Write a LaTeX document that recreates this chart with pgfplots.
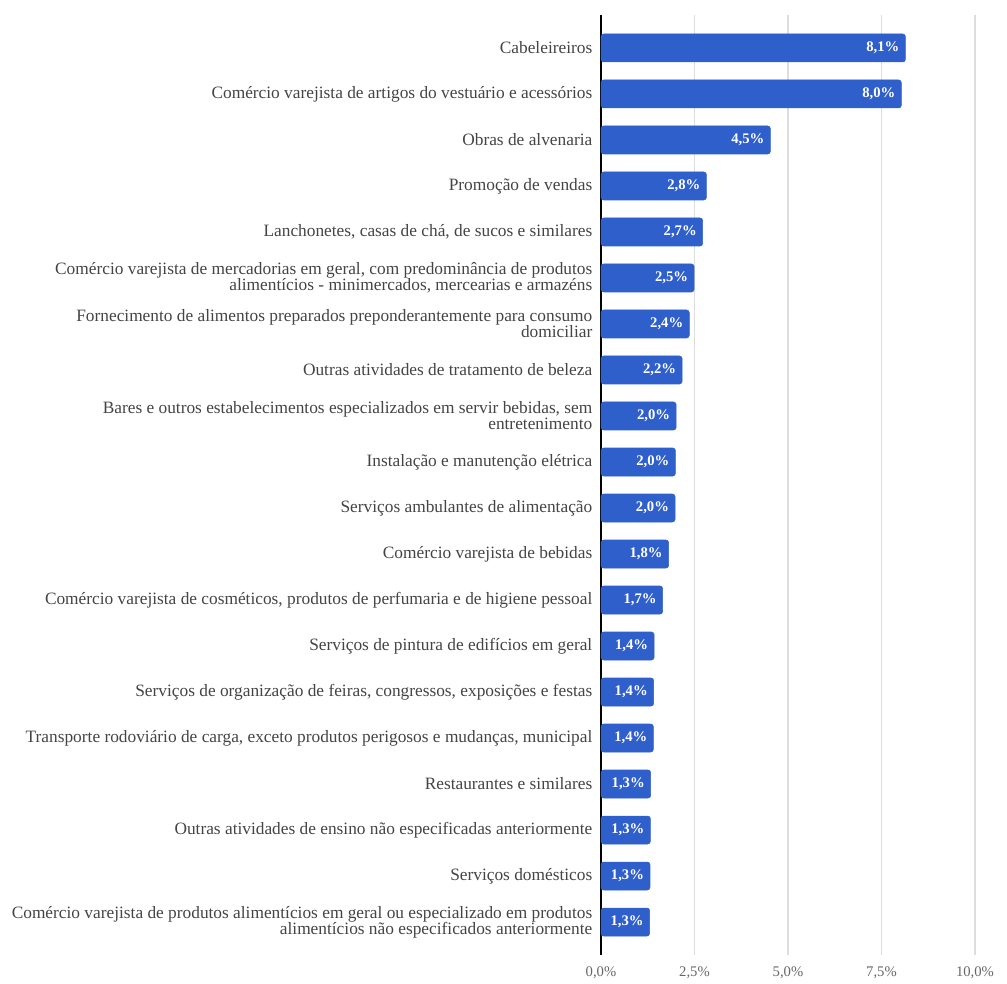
\documentclass[border=0pt]{standalone}
\usepackage{pgfplots}
\pgfplotsset{compat=1.18}
\usepackage{fontspec}
\setmainfont{Liberation Serif}
\usetikzlibrary{calc}
\definecolor{barblue}{HTML}{2F5FCB}
\definecolor{labgray}{HTML}{444444}
\definecolor{tickgray}{HTML}{666666}
\definecolor{gridgray}{HTML}{DDDDDD}
\begin{document}
\begin{tikzpicture}
\begin{axis}[
name=ax,
scale only axis,
width=280.5pt,
height=705pt,
xbar,
bar width=21pt,
y dir=reverse,
xmin=0, xmax=10,
ymin=-0.717, ymax=19.717,
xtick={0,2.5,5,7.5,10},
xticklabels={{0,0\%},{2,5\%},{5,0\%},{7,5\%},{10,0\%}},
xmajorgrids,
grid style={gridgray, line width=0.8pt},
major tick length=0pt,
axis y line*=left,
axis x line*=bottom,
x axis line style={draw=none},
y axis line style={black, line width=0.8pt},
xticklabel style={font=\fontsize{11}{12}\selectfont, text=tickgray, yshift=-5pt},
ytick=data,
yticklabels={
{Cabeleireiros},
{Comércio varejista de artigos do vestuário e acessórios},
{Obras de alvenaria},
{Promoção de vendas},
{Lanchonetes, casas de chá, de sucos e similares},
{Comércio varejista de mercadorias em geral, com predominância de produtos\\alimentícios - minimercados, mercearias e armazéns},
{Fornecimento de alimentos preparados preponderantemente para consumo\\domiciliar},
{Outras atividades de tratamento de beleza},
{Bares e outros estabelecimentos especializados em servir bebidas, sem\\entretenimento},
{Instalação e manutenção elétrica},
{Serviços ambulantes de alimentação},
{Comércio varejista de bebidas},
{Comércio varejista de cosméticos, produtos de perfumaria e de higiene pessoal},
{Serviços de pintura de edifícios em geral},
{Serviços de organização de feiras, congressos, exposições e festas},
{Transporte rodoviário de carga, exceto produtos perigosos e mudanças, municipal},
{Restaurantes e similares},
{Outras atividades de ensino não especificadas anteriormente},
{Serviços domésticos},
{Comércio varejista de produtos alimentícios em geral ou especializado em produtos\\alimentícios não especificados anteriormente}
},
yticklabel style={align=right, font=\fontsize{13}{12}\selectfont, text=labgray, xshift=-3pt},
nodes near coords={\pgfmathprintnumber[fixed,fixed zerofill,precision=1,use comma,assume math mode=true]{\pgfplotspointmeta}\%},
nodes near coords style={anchor=east, text=white, font=\bfseries\fontsize{11}{12}\selectfont, xshift=-1pt},
point meta=explicit,
]
\addplot[draw=barblue, fill=barblue, rounded corners=2pt] table[row sep=crcr, meta index=2]{
8.14 0 8.1\\
8.03 1 8.0\\
4.53 2 4.5\\
2.82 3 2.8\\
2.72 4 2.7\\
2.49 5 2.5\\
2.36 6 2.4\\
2.17 7 2.2\\
2.01 8 2.0\\
1.99 9 2.0\\
1.98 10 2.0\\
1.81 11 1.8\\
1.65 12 1.7\\
1.42 13 1.4\\
1.41 14 1.4\\
1.40 15 1.4\\
1.33 16 1.3\\
1.32 17 1.3\\
1.31 18 1.3\\
1.30 19 1.3\\
};
\end{axis}
\pgfresetboundingbox
\path[use as bounding box] ($(ax.south west)+(-450.75pt,-21.75pt)$) rectangle ++(755.25pt,738pt);
\end{tikzpicture}
\end{document}
